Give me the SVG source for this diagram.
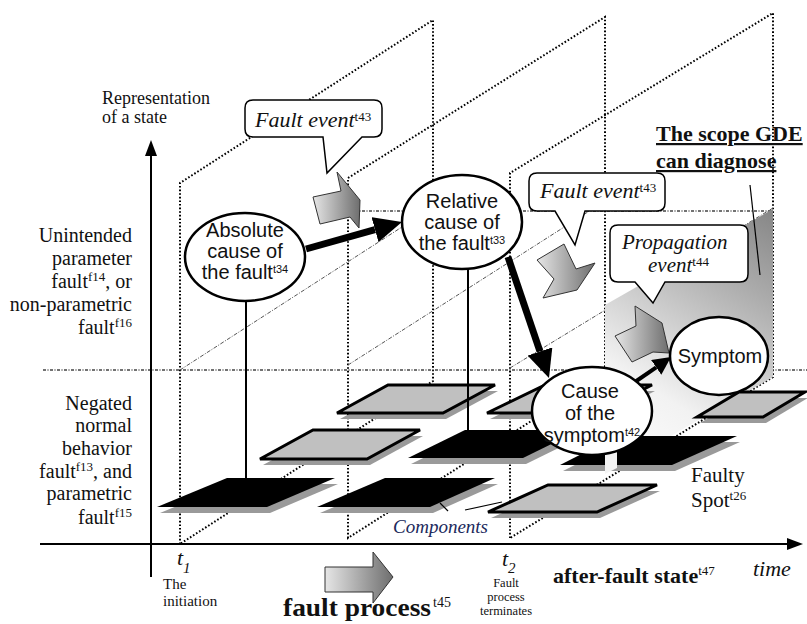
<svg xmlns="http://www.w3.org/2000/svg" width="807" height="624" viewBox="0 0 807 624">
<defs>
<style>
.dot{stroke:#000;stroke-width:2;stroke-dasharray:1.6 2;fill:none}
.mid{stroke:#555;stroke-width:1;stroke-dasharray:4 1.5 1 1.5;fill:none}
.hz{stroke:#444;stroke-width:1.3;stroke-dasharray:3 1.5 1 1.5;fill:none}
.pb{fill:#000}
.pg{fill:#c0c0c0;stroke:#000;stroke-width:3}
.sh{fill:#9a9a9a}
.node{fill:#fff;stroke:#000;stroke-width:2.5}
.call{fill:#fff;stroke:#000;stroke-width:1.5}
.blk{fill:url(#gArrow);stroke:#333;stroke-width:1}
.stem{stroke:#000;stroke-width:2;fill:none}
.thin{stroke:#000;stroke-width:1.2;fill:none}
.serif{font-family:"Liberation Serif","Times New Roman",serif;fill:#111}
.sans{font-family:"Liberation Sans",Arial,sans-serif;fill:#111}
.lbl{font-size:20px;text-anchor:end}
.sup{font-size:13px}
.nt{font-size:20px;text-anchor:middle}
.ns{font-size:11px}
.it{font-style:italic;font-size:22px}
.bold{font-weight:bold}
</style>
<linearGradient id="gArrow" x1="0" y1="0" x2="1" y2="0">
<stop offset="0" stop-color="#e6e6e6"/>
<stop offset="1" stop-color="#6e6e6e"/>
</linearGradient>
<linearGradient id="gScope" gradientUnits="userSpaceOnUse" x1="610" y1="470" x2="773" y2="215">
<stop offset="0" stop-color="#ffffff"/>
<stop offset="0.3" stop-color="#f2f2f2"/>
<stop offset="0.75" stop-color="#acacac"/>
<stop offset="1" stop-color="#888888"/>
</linearGradient>
<marker id="axHead" markerUnits="userSpaceOnUse" markerWidth="16" markerHeight="12" viewBox="0 0 16 12" refX="1" refY="6" orient="auto">
<path d="M0,0 L16,6 L0,12 Z" fill="#000"/>
</marker>
<marker id="hd1" markerUnits="userSpaceOnUse" markerWidth="28" markerHeight="26" viewBox="0 0 28 26" refX="0" refY="13" orient="auto">
<path d="M0,0 L28,13 L0,26 Z" fill="#000"/>
</marker>
<marker id="hd2" markerUnits="userSpaceOnUse" markerWidth="18" markerHeight="18" viewBox="0 0 18 18" refX="0" refY="9" orient="auto">
<path d="M0,0 L18,9 L0,18 Z" fill="#000"/>
</marker>
</defs>
<rect width="807" height="624" fill="#fff"/>

<g id="planes">
<path class="dot" d="M180,544 L180,183 L433,20 L433,381 Z"/>
<path class="dot" d="M348,538 L348,178 L605,17 L605,374 Z"/>
<path class="dot" d="M510,538 L510,173 L773,13 L773,377 Z"/>
<path class="mid" d="M180,370 L433,207"/>
<path class="mid" d="M348,365 L605,201"/>
<path class="mid" d="M510,368 L773,208"/>
<path class="hz" d="M43,370 H807"/>
<path class="hz" d="M355,211 H773"/>
</g>

<g id="scope">
<polygon points="605,305 773,209 773,377 605,474" fill="url(#gScope)"/>
</g>

<g id="platforms">
<g id="platA"><polygon class="sh" transform="translate(3,6)" points="227,478 335,478 267,507 157,507"/><polygon class="pb" points="227,478 335,478 267,507 157,507"/></g>
<g id="platB"><polygon class="sh" transform="translate(3,6)" points="385,478 495,478 430,507 317,507"/><polygon class="pb" points="385,478 495,478 430,507 317,507"/></g>
<g id="platC"><polygon class="sh" transform="translate(3,6)" points="313,430 420,430 367,459 260,459"/><polygon class="pg" points="313,430 420,430 367,459 260,459"/></g>
<g id="platD"><polygon class="sh" transform="translate(3,6)" points="388,385 495,385 443,413 337,413"/><polygon class="pg" points="388,385 495,385 443,413 337,413"/></g>
<g id="platE"><polygon class="sh" transform="translate(3,6)" points="465,430 580,430 523,458 408,458"/><polygon class="pb" points="465,430 580,430 523,458 408,458"/></g>
<g id="platF"><polygon class="sh" transform="translate(3,6)" points="545,385 652,385 597,413 487,413"/><polygon class="pg" points="545,385 652,385 597,413 487,413"/></g>
<g id="platH"><polygon class="sh" transform="translate(3,6)" points="617,436 737,436 672,465 560,465"/><polygon class="pb" points="617,436 737,436 672,465 560,465"/></g>
<g id="platG"><polygon class="sh" transform="translate(3,6)" points="739,392 805,392 763,417 697,417"/><polygon class="pg" points="739,392 805,392 763,417 697,417"/></g>
<g id="platI"><polygon class="sh" transform="translate(3,6)" points="548,485 657,485 597,512 488,512"/><polygon class="pg" points="548,485 657,485 597,512 488,512"/></g>
<polygon points="605,436 617,436 617,468 605,474" fill="#f4f4f4"/>
</g>

<g id="connectors">
<line class="stem" x1="246" y1="301" x2="246" y2="478"/>
<line class="stem" x1="468" y1="269" x2="468" y2="430"/>
<line class="thin" x1="440" y1="503" x2="448" y2="511"/>
<line class="thin" x1="465" y1="510" x2="502" y2="502"/>
<line class="thin" x1="750" y1="185" x2="760" y2="275"/>
<line x1="306" y1="249" x2="375" y2="229.6" stroke="#000" stroke-width="7" marker-end="url(#hd1)"/>
<line x1="508" y1="257" x2="540" y2="351.5" stroke="#000" stroke-width="7" marker-end="url(#hd1)"/>
<line x1="632" y1="384" x2="656.2" y2="367.3" stroke="#000" stroke-width="4" marker-end="url(#hd2)"/>
</g>

<g id="blockArrows">
<polygon class="blk" points="313,197 341,191 337,172 360,200 359,228 350,217 320,224"/>
<polygon class="blk" points="537,260 564,244 576,269 595,263 577,290 543,298 554,279"/>
<polygon class="blk" points="615,336 636,326 635,306 662,323 669,353 653,352 632,362"/>
<polygon class="blk" points="325,567 373,567 373,552 393,577 373,603 373,592 325,592"/>
</g>

<g id="callout1">
<path class="call" d="M253,100 H374 Q382,100 382,108 V129 Q382,137 374,137 H362 L327,173 L323,137 H253 Q245,137 245,129 V108 Q245,100 253,100 Z"/>
<text class="serif it" x="255" y="127">Fault event<tspan class="sup" font-style="normal" dy="-6">t43</tspan></text>
</g>
<g id="callout2">
<path class="call" d="M537,173 H657 Q665,173 665,181 V203 Q665,211 657,211 H585 L575,245 L555,211 H537 Q529,211 529,203 V181 Q529,173 537,173 Z"/>
<text class="serif it" x="540" y="198">Fault event<tspan class="sup" font-style="normal" dy="-6">t43</tspan></text>
</g>
<g id="callout3">
<path class="call" d="M618,225 H740 Q748,225 748,233 V274 Q748,282 740,282 H665 L653,303 L635,282 H618 Q610,282 610,274 V233 Q610,225 618,225 Z"/>
<text class="serif it" style="font-size:21px" x="622" y="249">Propagation</text>
<text class="serif it" style="font-size:21px" x="648" y="272">event<tspan class="sup" font-style="normal" dy="-6">t44</tspan></text>
</g>

<g id="nodeAbsolute">
<ellipse class="node" cx="245" cy="257" rx="60" ry="44"/>
<text class="sans nt" x="245" y="237">Absolute</text>
<text class="sans nt" x="245" y="258">cause of</text>
<text class="sans nt" x="245" y="279">the fault<tspan class="ns" dy="-6">t34</tspan></text>
</g>
<g id="nodeRelative">
<ellipse class="node" cx="462" cy="222" rx="60" ry="47"/>
<text class="sans nt" x="462" y="208">Relative</text>
<text class="sans nt" x="462" y="229">cause of</text>
<text class="sans nt" x="462" y="250">the fault<tspan class="ns" dy="-6">t33</tspan></text>
</g>
<g id="nodeCause">
<ellipse class="node" cx="592" cy="411" rx="60" ry="44"/>
<text class="sans nt" x="590" y="398">Cause</text>
<text class="sans nt" x="590" y="420">of the</text>
<text class="sans nt" x="592" y="442">symptom<tspan class="ns" dy="-6">t42</tspan></text>
</g>
<g id="nodeSymptom">
<ellipse class="node" cx="719" cy="356" rx="49" ry="39"/>
<text class="sans nt" x="720" y="363">Symptom</text>
</g>

<g id="axes">
<line x1="151" y1="577" x2="151" y2="155" stroke="#000" stroke-width="2" marker-end="url(#axHead)"/>
<line x1="40" y1="544" x2="788" y2="544" stroke="#000" stroke-width="2" marker-end="url(#axHead)"/>
</g>

<g id="labels">
<text class="serif" font-size="18" x="102" y="104">Representation</text>
<text class="serif" font-size="18" x="102" y="123">of a state</text>
<text class="serif lbl" x="132" y="242">Unintended</text>
<text class="serif lbl" x="132" y="265">parameter</text>
<text class="serif lbl" x="132" y="288">fault<tspan class="sup" dy="-7">f14</tspan><tspan dy="7">, or</tspan></text>
<text class="serif lbl" x="132" y="311">non-parametric</text>
<text class="serif lbl" x="132" y="334">fault<tspan class="sup" dy="-7">f16</tspan></text>
<text class="serif lbl" x="132" y="410">Negated</text>
<text class="serif lbl" x="132" y="432">normal</text>
<text class="serif lbl" x="132" y="455">behavior</text>
<text class="serif lbl" x="132" y="478">fault<tspan class="sup" dy="-7">f13</tspan><tspan dy="7">, and</tspan></text>
<text class="serif lbl" x="132" y="500">parametric</text>
<text class="serif lbl" x="132" y="524">fault<tspan class="sup" dy="-7">f15</tspan></text>
<text class="serif bold" font-size="22" x="656" y="141" text-decoration="underline">The scope GDE</text>
<text class="serif bold" font-size="22" x="656" y="168" text-decoration="underline">can diagnose</text>
<text class="serif" font-size="21" x="691" y="482">Faulty</text>
<text class="serif" font-size="21" x="691" y="507">Spot<tspan class="sup" dy="-7">t26</tspan></text>
<text class="serif" font-size="19" font-style="italic" x="393" y="533" style="fill:#1c2a5c">Components</text>
<text class="serif" font-size="22" font-style="italic" x="177" y="565">t</text>
<text class="serif" font-size="15" font-style="italic" x="183" y="573">1</text>
<text class="serif" font-size="15" x="163" y="589">The</text>
<text class="serif" font-size="15" x="163" y="606">initiation</text>
<text class="serif" font-size="22" font-style="italic" x="502" y="566">t</text>
<text class="serif" font-size="15" font-style="italic" x="508" y="573">2</text>
<text class="serif" font-size="12.5" text-anchor="middle" x="506" y="587">Fault</text>
<text class="serif" font-size="12.5" text-anchor="middle" x="506" y="601">process</text>
<text class="serif" font-size="12.5" text-anchor="middle" x="506" y="615">terminates</text>
<text class="serif bold" font-size="22" x="553" y="583">after-fault state<tspan class="sup" font-weight="normal" dy="-8">t47</tspan></text>
<text class="serif" font-size="22" font-style="italic" x="753" y="576">time</text>
<text class="serif bold" font-size="25" x="283" y="616" textLength="148" lengthAdjust="spacingAndGlyphs">fault process</text>
<text class="serif" font-size="14" x="433" y="607">t45</text>
</g>
</svg>
